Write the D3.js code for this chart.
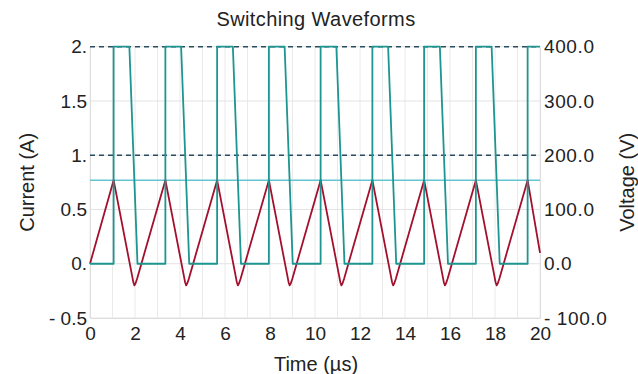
<!DOCTYPE html>
<html>
<head>
<meta charset="utf-8">
<script src="https://cdn.jsdelivr.net/npm/d3@7"></script>
<style>
  body { margin: 0; background: #fff; }
  text { font-family: "Liberation Sans", Arial, sans-serif; fill: #222; }
</style>
</head>
<body>
<svg id="chart" width="638" height="374"></svg>
<script>
// ---- data ----
const timeTicks = [0, 2, 4, 6, 8, 10, 12, 14, 16, 18, 20];
const currentTicks = [-0.5, 0, 0.5, 1, 1.5, 2];
const currentTickLabels = ["- 0.5", "0.", "0.5", "1.", "1.5", "2."];
const voltageTicks = [-100, 0, 100, 200, 300, 400];
const voltageTickLabels = ["- 100.0", "0.0", "100.0", "200.0", "300.0", "400.0"];

// switch voltage (V)
const voltageTime = [0, 1.05, 1.05, 1.75, 2.11,
  3.35, 3.35, 4.05, 4.41,
  5.65, 5.65, 6.35, 6.71,
  7.95, 7.95, 8.65, 9.01,
  10.25, 10.25, 10.95, 11.31,
  12.55, 12.55, 13.25, 13.61,
  14.85, 14.85, 15.55, 15.91,
  17.15, 17.15, 17.85, 18.21,
  19.45, 19.45, 20];
const voltageValue = [0, 0, 400, 400, 0,
  0, 400, 400, 0,
  0, 400, 400, 0,
  0, 400, 400, 0,
  0, 400, 400, 0,
  0, 400, 400, 0,
  0, 400, 400, 0,
  0, 400, 400, 0,
  0, 400, 400];

// inductor current (A)
const currentTime = [0,
  1.05, 1.87, 1.925, 1.975, 2.025, 2.09,
  3.35, 4.17, 4.225, 4.275, 4.325, 4.39,
  5.65, 6.47, 6.525, 6.575, 6.625, 6.69,
  7.95, 8.77, 8.825, 8.875, 8.925, 8.99,
  10.25, 11.07, 11.125, 11.175, 11.225, 11.29,
  12.55, 13.37, 13.425, 13.475, 13.525, 13.59,
  14.85, 15.67, 15.725, 15.775, 15.825, 15.89,
  17.15, 17.97, 18.025, 18.075, 18.125, 18.19,
  19.45, 20];
const currentValue = [0,
  0.77, -0.11, -0.17, -0.2, -0.18, -0.14,
  0.77, -0.11, -0.17, -0.2, -0.18, -0.14,
  0.77, -0.11, -0.17, -0.2, -0.18, -0.14,
  0.77, -0.11, -0.17, -0.2, -0.18, -0.14,
  0.77, -0.11, -0.17, -0.2, -0.18, -0.14,
  0.77, -0.11, -0.17, -0.2, -0.18, -0.14,
  0.77, -0.11, -0.17, -0.2, -0.18, -0.14,
  0.77, -0.11, -0.17, -0.2, -0.18, -0.14,
  0.77, 0.1];

const peakCurrent = 0.77;            // cyan reference line (A)
const voltageRefLevels = [400, 200]; // dashed reference lines (V)

// ---- layout ----
const svg = d3.select('#chart');
const area = { left: 90, right: 540, top: 46.7, bottom: 318 };

const x = d3.scaleLinear().domain([0, 20]).range([area.left, area.right]);
const yI = d3.scaleLinear().domain([-0.5, 2]).range([area.bottom, area.top]);
const yV = d3.scaleLinear().domain([-100, 400]).range([area.bottom, area.top]);

// grid
const grid = svg.append('g');
grid.selectAll('line.v')
  .data(d3.range(0, 21))
  .enter().append('line')
  .attr('x1', d => x(d)).attr('x2', d => x(d))
  .attr('y1', area.top).attr('y2', area.bottom)
  .attr('stroke', '#eaeaea').attr('stroke-width', 1);
grid.selectAll('line.h')
  .data(currentTicks)
  .enter().append('line')
  .attr('x1', area.left).attr('x2', area.right)
  .attr('y1', d => yI(d)).attr('y2', d => yI(d))
  .attr('stroke', '#e3e3e3').attr('stroke-width', 1);

// axes
const leftAxis = svg.append('g')
  .attr('transform', `translate(${area.left},0)`)
  .call(d3.axisLeft(yI).tickValues(currentTicks)
    .tickFormat((d, i) => currentTickLabels[i]).tickSize(0).tickPadding(3));
const rightAxis = svg.append('g')
  .attr('transform', `translate(${area.right},0)`)
  .call(d3.axisRight(yV).tickValues(voltageTicks)
    .tickFormat((d, i) => voltageTickLabels[i]).tickSize(0).tickPadding(4));
const bottomAxis = svg.append('g')
  .attr('transform', `translate(0,${area.bottom})`)
  .call(d3.axisBottom(x).tickValues(timeTicks).tickFormat(d3.format('d')).tickSize(0).tickPadding(9));

[leftAxis, rightAxis, bottomAxis].forEach(a => {
  a.select('.domain').attr('stroke', '#dedede');
  a.selectAll('.tick text')
    .attr('fill', '#222')
    .style('font-family', '"Liberation Sans", Arial, sans-serif')
    .style('font-size', '19px');
});
rightAxis.selectAll('.tick text').style('letter-spacing', '0.6px');

// reference lines
svg.selectAll('line.ref')
  .data(voltageRefLevels)
  .enter().append('line')
  .attr('x1', area.left).attr('x2', area.right)
  .attr('y1', d => yV(d)).attr('y2', d => yV(d))
  .attr('stroke', '#2b4d60').attr('stroke-width', 1.5)
  .attr('stroke-dasharray', '5,4');

svg.append('line')
  .attr('x1', area.left).attr('x2', area.right)
  .attr('y1', yI(peakCurrent)).attr('y2', yI(peakCurrent))
  .attr('stroke', '#62c6d2').attr('stroke-width', 1.5);

// series
const currentLine = d3.line().x(d => x(d[0])).y(d => yI(d[1]));
const voltageLine = d3.line().x(d => x(d[0])).y(d => yV(d[1]));

svg.append('path')
  .datum(currentTime.map((t, i) => [t, currentValue[i]]))
  .attr('d', currentLine)
  .attr('fill', 'none').attr('stroke', '#a3102e').attr('stroke-width', 1.8)
  .attr('stroke-linejoin', 'round');

svg.append('path')
  .datum(voltageTime.map((t, i) => [t, voltageValue[i]]))
  .attr('d', voltageLine)
  .attr('fill', 'none').attr('stroke', '#1d9590').attr('stroke-width', 1.8)
  .attr('stroke-linejoin', 'round');

// titles
svg.append('text')
  .attr('x', 316).attr('y', 26)
  .attr('text-anchor', 'middle')
  .style('font-size', '20px')
  .style('letter-spacing', '0.4px')
  .text('Switching Waveforms');

svg.append('text')
  .attr('x', 316).attr('y', 371)
  .attr('text-anchor', 'middle')
  .style('font-size', '20px')
  .text('Time (µs)');

svg.append('text')
  .attr('transform', `translate(34,${(area.top + area.bottom) / 2}) rotate(-90)`)
  .attr('text-anchor', 'middle')
  .style('font-size', '20px')
  .text('Current (A)');

svg.append('text')
  .attr('transform', `translate(634,${(area.top + area.bottom) / 2}) rotate(-90)`)
  .attr('text-anchor', 'middle')
  .style('font-size', '20px')
  .text('Voltage (V)');
</script>
</body>
</html>
